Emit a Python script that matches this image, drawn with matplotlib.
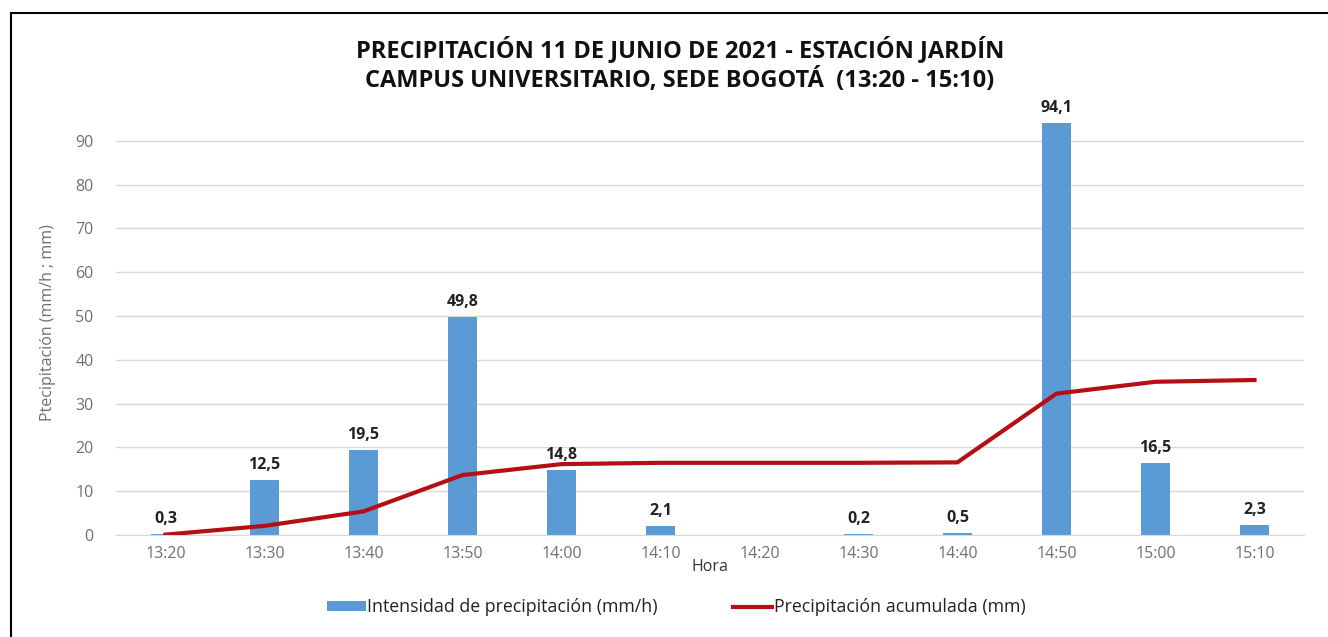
import matplotlib.pyplot as plt
from matplotlib.patches import Rectangle
import numpy as np

# Data
horas = ['13:20', '13:30', '13:40', '13:50', '14:00', '14:10',
         '14:20', '14:30', '14:40', '14:50', '15:00', '15:10']
intensidad = [0.3, 12.5, 19.5, 49.8, 14.8, 2.1, 0.0, 0.2, 0.5, 94.1, 16.5, 2.3]
acumulada = [0.1, 2.1, 5.4, 13.7, 16.2, 16.5, 16.5, 16.5, 16.6, 32.3, 35.0, 35.4]
etiquetas = ['0,3', '12,5', '19,5', '49,8', '14,8', '2,1', '', '0,2', '0,5', '94,1', '16,5', '2,3']

plt.rcParams['font.family'] = ['Open Sans', 'DejaVu Sans']

fig = plt.figure(figsize=(13.28, 6.37), dpi=100)
ax = fig.add_axes([0.0873, 0.160, 0.8946, 0.667])

x = np.arange(len(horas))
bars = ax.bar(x, intensidad, width=0.3, color='#5B9BD5', label='Intensidad de precipitación (mm/h)', zorder=2)
line, = ax.plot(x, acumulada, color='#B40F14', linewidth=3, label='Precipitación acumulada (mm)', zorder=3)

for xi, v, t in zip(x, intensidad, etiquetas):
    if t:
        ax.text(xi, v + 1.6, t, ha='center', va='bottom', fontsize=11.5, fontweight='bold', color='#222222')

ax.set_xlim(-0.5, len(horas) - 0.5)
ax.set_ylim(0, 97)
ax.set_yticks(range(0, 91, 10))
ax.set_xticks(x)
ax.set_xticklabels(horas)
ax.tick_params(axis='both', length=0, labelsize=11.5, colors='#707070')
ax.tick_params(axis='x', pad=8)
ax.tick_params(axis='y', pad=16)
ax.grid(axis='y', color='#D9D9D9', linewidth=1, zorder=0)
for s in ['top', 'right', 'left']:
    ax.spines[s].set_visible(False)
ax.spines['bottom'].set_color('#D9D9D9')

ax.set_xlabel('Hora', fontsize=11.5, color='#333333', labelpad=-2)
ax.set_ylabel('Ptecipitación (mm/h ; mm)', fontsize=11.5, color='#707070', labelpad=14)

fig.text(0.512, 0.922, 'PRECIPITACIÓN 11 DE JUNIO DE 2021 - ESTACIÓN JARDÍN',
         ha='center', va='center', fontsize=17, fontweight='bold', color='#111111')
fig.text(0.512, 0.873, 'CAMPUS UNIVERSITARIO, SEDE BOGOTÁ  (13:20 - 15:10)',
         ha='center', va='center', fontsize=17, fontweight='bold', color='#111111')

leg = fig.legend([bars, line], [bars.get_label(), line.get_label()],
                 loc='center', bbox_to_anchor=(0.509, 0.047), ncol=2, frameon=False,
                 fontsize=12.8, handlelength=2.2, handleheight=0.45, handletextpad=0.1,
                 columnspacing=4.2)
for t in leg.get_texts():
    t.set_color('#222222')

# outer frame
fig.patches.append(Rectangle((11 / 1328, -0.1), 1.2, (637 - 13) / 637 + 0.1,
                             transform=fig.transFigure, fill=False, edgecolor='black', linewidth=1.5))

plt.savefig('out.png', dpi=100)
